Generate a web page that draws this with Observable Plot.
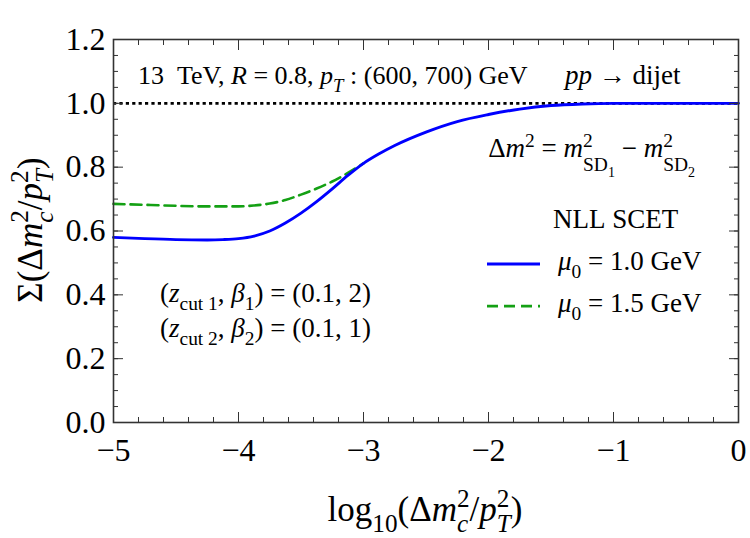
<!DOCTYPE html>
<html>
<head>
<meta charset="utf-8">
<script src="https://cdn.jsdelivr.net/npm/d3@7"></script>
<script src="https://cdn.jsdelivr.net/npm/@observablehq/plot@0.6"></script>
<style>
  html, body { margin: 0; padding: 0; background: white; }
  svg text { white-space: pre; }
</style>
</head>
<body>
<div id="chart"></div>
<script>
// ---- data ----
const xBlue = [-5, -4.75, -4.5, -4.25, -4.125, -4, -3.875, -3.75, -3.625, -3.5, -3.375, -3.25, -3.125, -3, -2.875, -2.75, -2.5, -2.25, -2, -1.75, -1.5, -1.25, -1, -0.5, 0];
const yBlue = [0.58, 0.576, 0.573, 0.572, 0.573, 0.576, 0.584, 0.6, 0.625, 0.656, 0.692, 0.732, 0.774, 0.812, 0.842, 0.868, 0.91, 0.943, 0.965, 0.982, 0.993, 0.998, 1.0, 1.0, 1.0];
const xGreen = [-5, -4.75, -4.5, -4.25, -4, -3.875, -3.75, -3.625, -3.5, -3.375, -3.25, -3.125, -3];
const yGreen = [0.685, 0.682, 0.679, 0.677, 0.677, 0.68, 0.686, 0.697, 0.714, 0.733, 0.755, 0.782, 0.812];
const refLine = [1.0];
const xMajor = [-5, -4, -3, -2, -1, 0];
const xMinor = d3.range(-5, 0.0001, 0.2).map(v => +v.toFixed(2));
const yMajor = [0, 0.2, 0.4, 0.6, 0.8, 1.0, 1.2];
const yMinor = d3.range(0, 1.2001, 0.05).map(v => +v.toFixed(2));
const seriesValues = ["1.0", "1.5"];

const blue = xBlue.map((x, i) => ({x, y: yBlue[i]}));
const green = xGreen.map((x, i) => ({x, y: yGreen[i]}));

const BLUE = "#0000ff", GREEN = "#14a014";
const FONT = "'Liberation Serif', 'Times New Roman', serif";
const fmtX = d => d === 0 ? "0" : "\u2212" + Math.abs(d);
const fmtY = d3.format(".1f");

const plot = Plot.plot({
  width: 750, height: 538,
  marginLeft: 113, marginRight: 12, marginTop: 39, marginBottom: 116,
  x: {domain: [-5, 0]},
  y: {domain: [0, 1.2]},
  style: {fontFamily: FONT, background: "white", color: "black", overflow: "visible"},
  marks: [
    Plot.ruleY(refLine, {stroke: "black", strokeWidth: 2.6, strokeDasharray: "3.2,3.2"}),
    Plot.line(green, {x: "x", y: "y", stroke: GREEN, strokeWidth: 2.6, strokeDasharray: "11,6", curve: "monotone-x"}),
    Plot.line(blue, {x: "x", y: "y", stroke: BLUE, strokeWidth: 2.9, curve: "monotone-x"}),
    // inward ticks
    Plot.axisX({anchor: "bottom", ticks: xMajor, tickSize: -10, text: null, label: null, stroke: "#333"}),
    Plot.axisX({anchor: "bottom", ticks: xMinor, tickSize: -5, text: null, label: null, stroke: "#333"}),
    Plot.axisX({anchor: "top", ticks: xMajor, tickSize: -10, text: null, label: null, stroke: "#333"}),
    Plot.axisX({anchor: "top", ticks: xMinor, tickSize: -5, text: null, label: null, stroke: "#333"}),
    Plot.axisY({anchor: "left", ticks: yMajor, tickSize: -10, text: null, label: null, stroke: "#333"}),
    Plot.axisY({anchor: "left", ticks: yMinor, tickSize: -5, text: null, label: null, stroke: "#333"}),
    Plot.axisY({anchor: "right", ticks: yMajor, tickSize: -10, text: null, label: null, stroke: "#333"}),
    Plot.axisY({anchor: "right", ticks: yMinor, tickSize: -5, text: null, label: null, stroke: "#333"}),
    // tick labels
    Plot.axisX({anchor: "bottom", ticks: xMajor, tickSize: 0, tickPadding: 16, tickFormat: fmtX, label: null, fontSize: 32, fontFamily: FONT, fill: "black"}),
    Plot.axisY({anchor: "left", ticks: yMajor, tickSize: 0, tickPadding: 8, tickFormat: fmtY, label: null, fontSize: 32, fontFamily: FONT, fill: "black"}),
    Plot.frame({stroke: "#333", strokeWidth: 1.6})
  ]
});
document.getElementById("chart").appendChild(plot);

const sx = plot.scale("x").apply, sy = plot.scale("y").apply;
const svg = d3.select(plot);

// rich text layout: items {t, i (italic), s: "sub"|"sup"|"subsub", stack (start under previous item)}
function rich(x0, y0, items, {size = 27, anchor = "start", rotate = 0, subDy = 0.3, supDy = -0.38} = {}) {
  const g = svg.append("g")
    .attr("font-family", FONT).attr("fill", "black")
    .attr("text-anchor", "start").style("text-anchor", "start");
  let cx = 0, stackStart = 0;
  for (const it of items) {
    const scale = it.s === "sub" || it.s === "sup" ? 0.72 : it.s === "subsub" ? 0.52 : 1;
    let dy = it.s === "sub" ? size * subDy : it.s === "sup" ? size * supDy : it.s === "subsub" ? size * (subDy + 0.2) : 0;
    if (it.dy != null) dy = size * it.dy;
    const x = it.stack ? stackStart : cx;
    const t = g.append("text")
      .attr("x", x).attr("y", dy)
      .attr("text-anchor", "start")
      .attr("font-size", size * scale)
      .attr("font-style", it.i ? "italic" : "normal")
      .text(it.t.replace(/ /g, "\u00a0"));
    const w = t.node().getComputedTextLength();
    if (it.stack) cx = Math.max(cx, x + w);
    else { stackStart = x; cx = x + w; }
  }
  const shift = anchor === "end" ? -cx : anchor === "middle" ? -cx / 2 : 0;
  if (rotate) g.attr("transform", `translate(${x0},${y0}) rotate(${rotate}) translate(${shift},0)`);
  else g.attr("transform", `translate(${x0 + shift},${y0})`);
  return g;
}

// annotations
rich(sx(-4.8), sy(1.059), [
  {t: "13  TeV, "}, {t: "R", i: 1}, {t: " = 0.8, "}, {t: "p", i: 1}, {t: "T", i: 1, s: "sub"},
  {t: " : (600, 700) GeV"}
], {size: 26});
rich(sx(-1.384), sy(1.059), [{t: "pp", i: 1}, {t: " → dijet"}]);
rich(sx(-0.344), sy(0.830), [
  {t: "Δ"}, {t: "m", i: 1}, {t: "2", s: "sup"}, {t: " = "}, {t: "m", i: 1}, {t: "2", s: "sup"},
  {t: "SD", s: "sub", stack: 1, dy: 0.5}, {t: "1", s: "subsub", dy: 0.72}, {t: " − "}, {t: "m", i: 1}, {t: "2", s: "sup"},
  {t: "SD", s: "sub", stack: 1, dy: 0.5}, {t: "2", s: "subsub", dy: 0.72}
], {anchor: "end"});
rich(sx(-1.48), sy(0.608), [{t: "NLL SCET"}]);

// legend
const legY = [0.495, 0.363];
const legStyles = [{stroke: BLUE, dash: null, w: 2.9}, {stroke: GREEN, dash: "11,6", w: 2.6}];
legY.forEach((ly, k) => {
  svg.append("line")
    .attr("x1", sx(-2.008)).attr("x2", sx(-1.584))
    .attr("y1", sy(ly)).attr("y2", sy(ly))
    .attr("stroke", legStyles[k].stroke).attr("stroke-width", legStyles[k].w)
    .attr("stroke-dasharray", legStyles[k].dash);
  rich(sx(-1.44), sy(ly) + 6, [{t: "μ", i: 1}, {t: "0", s: "sub"}, {t: " = " + seriesValues[k] + " GeV"}]);
});

rich(sx(-4.624), sy(0.376), [
  {t: "("}, {t: "z", i: 1}, {t: "cut 1", s: "sub"}, {t: ", "}, {t: "β", i: 1}, {t: "1", s: "sub"}, {t: ") = (0.1, 2)"}
]);
rich(sx(-4.624), sy(0.266), [
  {t: "("}, {t: "z", i: 1}, {t: "cut 2", s: "sub"}, {t: ", "}, {t: "β", i: 1}, {t: "2", s: "sub"}, {t: ") = (0.1, 1)"}
]);

// axis titles
rich(425, 521, [
  {t: "log"}, {t: "10", s: "sub"}, {t: "(Δ"}, {t: "m", i: 1}, {t: "2", s: "sup"}, {t: "c", i: 1, s: "sub", stack: 1},
  {t: "/"}, {t: "p", i: 1}, {t: "2", s: "sup"}, {t: "T", i: 1, s: "sub", stack: 1}, {t: ")"}
], {size: 35, anchor: "middle", subDy: 0.32, supDy: -0.4});
rich(42, 230, [
  {t: "Σ(Δ"}, {t: "m", i: 1}, {t: "2", s: "sup"}, {t: "c", i: 1, s: "sub", stack: 1},
  {t: "/"}, {t: "p", i: 1}, {t: "2", s: "sup"}, {t: "T", i: 1, s: "sub", stack: 1}, {t: ")"}
], {size: 35, anchor: "middle", rotate: -90, subDy: 0.32, supDy: -0.4});
</script>
</body>
</html>
